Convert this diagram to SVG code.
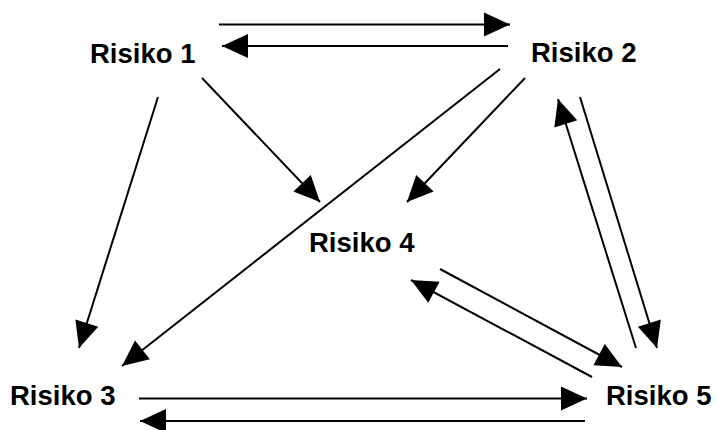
<svg xmlns="http://www.w3.org/2000/svg" width="717" height="430" viewBox="0 0 717 430">
<style>
.lbl{font-family:"Liberation Sans",Arial,sans-serif;font-weight:bold;font-size:27.5px;fill:#000}
.c line{stroke:#000;stroke-width:2;fill:none}
.a{marker-end:url(#ah)}
</style>
<defs>
<marker id="ah" markerUnits="userSpaceOnUse" markerWidth="28" markerHeight="26" refX="26" refY="12" orient="auto" overflow="visible">
<path d="M0,0 L26,12 L0,24 Z" fill="#000"/>
</marker>
</defs>
<rect width="717" height="430" fill="#fff"/>
<g class="c" id="connectors">
<line class="a" x1="219" y1="24.5" x2="510" y2="24.5"/>
<line class="a" x1="508" y1="46" x2="222" y2="46"/>
<line class="a" x1="158" y1="97" x2="79" y2="348"/>
<line class="a" x1="202" y1="78" x2="320" y2="202"/>
<line class="a" x1="500" y1="69" x2="122" y2="366"/>
<line class="a" x1="525" y1="78" x2="407" y2="202"/>
<line class="a" x1="636" y1="348" x2="558" y2="99"/>
<line class="a" x1="580" y1="97" x2="657" y2="348"/>
<line class="a" x1="440" y1="269" x2="622" y2="367"/>
<line class="a" x1="592" y1="377" x2="411" y2="280"/>
<line class="a" x1="139" y1="398.5" x2="587" y2="398.5"/>
<line class="a" x1="585" y1="421" x2="140" y2="421"/>
</g>
<g id="risiko1"><text class="lbl" x="90" y="63">Risiko 1</text></g>
<g id="risiko2"><text class="lbl" x="531" y="62">Risiko 2</text></g>
<g id="risiko3"><text class="lbl" x="10" y="405">Risiko 3</text></g>
<g id="risiko4"><text class="lbl" x="309" y="252">Risiko 4</text></g>
<g id="risiko5"><text class="lbl" x="606" y="405">Risiko 5</text></g>
</svg>
